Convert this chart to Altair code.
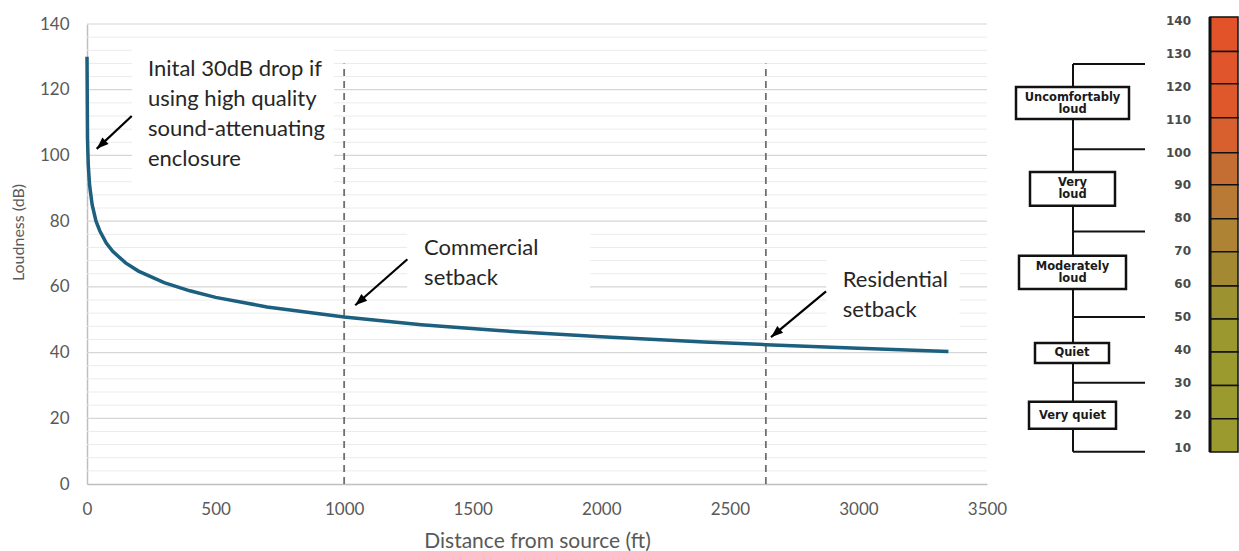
import altair as alt
import pandas as pd

# ---------------- main chart data ----------------
distance_ft = [0, 2, 5, 10, 20, 35, 50, 75, 100, 150, 200, 300, 400, 500, 700,
               1000, 1300, 1600, 2000, 2400, 2640, 3000, 3350]
loudness_db = [130, 105, 97, 91, 85, 80, 77, 73.3, 70.8, 67.3, 64.8, 61.3, 58.8,
               56.8, 53.9, 50.8, 48.5, 46.7, 44.8, 43.2, 42.4, 41.3, 40.3]

x_ticks = [0, 500, 1000, 1500, 2000, 2500, 3000, 3500]
y_ticks = [0, 20, 40, 60, 80, 100, 120, 140]
y_major_grid = [20, 40, 60, 80, 100, 120, 140]
y_minor_grid = [4, 8, 12, 16, 24, 28, 32, 36, 44, 48, 52, 56, 64, 68, 72, 76,
                84, 88, 92, 96, 104, 108, 112, 116, 124, 128, 132, 136]

setback_ft = [1000, 2640]
setback_bottom_db = [0, 0]
setback_top_db = [128, 128]

note_text = ["Inital 30dB drop if\nusing high quality\nsound-attenuating\nenclosure",
             "Commercial\nsetback",
             "Residential\nsetback"]
note_x_ft = [237, 1311, 2939]
note_y_db = [124.2, 69.6, 60.0]
note_box_x1 = [175, 1245, 2875]
note_box_x2 = [961, 1957, 3393]
note_box_y1 = [90, 58, 47]
note_box_y2 = [134, 78, 70]

arrow_tail_x = [174, 1246, 2874]
arrow_tail_y = [112, 68.4, 58.6]
arrow_head_x = [37.7, 1043, 2660]
arrow_head_y = [102, 54.4, 44.7]
arrow_angle = [227, 229, 230]

# ---------------- loudness diagram data ----------------
scale_levels = [140, 130, 120, 110, 100, 90, 80, 70, 60, 50, 40, 30, 20, 10]
bar_top = [141.3, 130.8, 121.0, 110.6, 100.0, 90.2, 79.9, 69.8, 59.4, 49.4, 39.3, 29.1, 19.0]
bar_bottom = [130.8, 121.0, 110.6, 100.0, 90.2, 79.9, 69.8, 59.4, 49.4, 39.3, 29.1, 19.0, 8.9]
bar_colors = ["#e2532a", "#e0552b", "#de582c", "#d8602e", "#c46e33", "#b87a35",
              "#ae8334", "#a38a32", "#9c9330", "#9b982f", "#9b9a2f", "#9b9a2f", "#9b9a2f"]

bracket_levels = [127, 101, 76, 50, 30, 9]
category_names = ["Uncomfortably\nloud", "Very\nloud", "Moderately\nloud", "Quiet", "Very quiet"]
category_top = [120.0, 94.1, 68.6, 42.1, 24.2]
category_bottom = [110.2, 83.8, 58.5, 36.0, 16.0]
category_left = [17, 31, 20, 36, 30]
category_right = [130, 116, 127, 110, 117]
category_text_level = [116.7, 90.8, 65.2, 39.1, 19.8]

# diagram layout units
stem_x = 74
tick_end_x = 146
label_x = 192
bar_x1 = 211
bar_x2 = 239

# ---------------- build data frames ----------------
curve = pd.DataFrame({"d": distance_ft, "L": loudness_db})
major = pd.DataFrame({"L": y_major_grid})
minor = pd.DataFrame({"L": y_minor_grid})
setbacks = pd.DataFrame({"d": setback_ft, "L": setback_bottom_db, "L2": setback_top_db})
notes = pd.DataFrame({"d": note_x_ft, "L": note_y_db, "t": note_text})
boxes = pd.DataFrame({"d": note_box_x1, "d2": note_box_x2, "L": note_box_y1, "L2": note_box_y2})
arrows = pd.DataFrame({"d": arrow_tail_x, "L": arrow_tail_y, "d2": arrow_head_x,
                       "L2": arrow_head_y, "a": arrow_angle})

XS = alt.Scale(domain=[0, 3500], nice=False, zero=False)
YS = alt.Scale(domain=[0, 140], nice=False, zero=False)
GRAY = "#595959"

x_axis = alt.Axis(values=x_ticks, format="d", grid=False, ticks=False, domainColor="#bfbfbf",
                  domainWidth=1.5, labelColor=GRAY, labelFont="Lato", labelFontSize=17,
                  labelPadding=17, title="Distance from source (ft)", titleFont="Lato",
                  titleFontSize=21, titleFontWeight="normal", titleColor=GRAY, titlePadding=13,
                  labelFlush=False)
y_axis = alt.Axis(values=y_ticks, grid=False, ticks=False, domainColor="#bfbfbf", domainWidth=1.5,
                  labelColor=GRAY, labelFont="Lato", labelFontSize=17, labelPadding=18,
                  title="Loudness (dB)", titleFont="Lato", titleFontSize=16,
                  titleFontWeight="normal", titleColor=GRAY, titlePadding=13, titleY=208)


def X(field):
    return alt.X(field, scale=XS, axis=x_axis)


def Y(field):
    return alt.Y(field, scale=YS, axis=y_axis)


curve_layer = alt.Chart(curve).mark_line(color="#1d5f7f", strokeWidth=3.5).encode(
    x=X("d:Q"), y=Y("L:Q"))
minor_layer = alt.Chart(minor).mark_rule(color="#ebebeb", strokeWidth=1).encode(y=Y("L:Q"))
major_layer = alt.Chart(major).mark_rule(color="#d6d6d6", strokeWidth=1.2).encode(y=Y("L:Q"))
box_layer = alt.Chart(boxes).mark_rect(color="white").encode(
    x=X("d:Q"), x2="d2:Q", y=Y("L:Q"), y2="L2:Q")
setback_layer = alt.Chart(setbacks).mark_rule(color="#6f6f6f", strokeWidth=1.8, strokeDash=[7, 5]).encode(
    x=X("d:Q"), y=Y("L:Q"), y2="L2:Q")
arrow_line = alt.Chart(arrows).mark_rule(color="black", strokeWidth=2.2).encode(
    x=X("d:Q"), x2="d2:Q", y=Y("L:Q"), y2="L2:Q")
arrow_head = alt.Chart(arrows).mark_point(
    shape="M0,0L0.75,2L-0.75,2Z", filled=True, color="black", opacity=1, size=144).encode(
    x=X("d2:Q"), y=Y("L2:Q"), angle=alt.Angle("a:Q", scale=None))
note_layer = alt.Chart(notes).mark_text(
    align="left", baseline="alphabetic", font="Lato", fontSize=22, lineHeight=30,
    color="#262626", lineBreak="\n").encode(x=X("d:Q"), y=Y("L:Q"), text="t:N")

main = alt.layer(minor_layer, major_layer, box_layer, setback_layer, curve_layer,
                 arrow_line, arrow_head, note_layer).properties(width=900, height=460)

# ---------------- diagram ----------------
DX = alt.Scale(domain=[0, 239], nice=False, zero=False)
DY = alt.Scale(domain=[-0.85, 139.15], nice=False, zero=False)

stem = pd.DataFrame({"x": [stem_x], "y": [bracket_levels[0]], "y2": [bracket_levels[-1]]})
ticks = pd.DataFrame({"x": [stem_x] * len(bracket_levels), "x2": [tick_end_x] * len(bracket_levels),
                      "y": bracket_levels})
cats = pd.DataFrame({"x": category_left, "x2": category_right, "y": category_top,
                     "y2": category_bottom, "name": category_names,
                     "cx": [(a + b) / 2 for a, b in zip(category_left, category_right)],
                     "ty": category_text_level})
scale_df = pd.DataFrame({"x": [label_x] * len(scale_levels), "y": scale_levels,
                         "t": [str(v) for v in scale_levels]})
bar_df = pd.DataFrame({"x": [bar_x1] * len(bar_top), "x2": [bar_x2] * len(bar_top),
                       "y": bar_top, "y2": bar_bottom, "c": bar_colors})
bar_edge = pd.DataFrame({"x": [bar_x1], "y": [bar_top[0]], "y2": [bar_bottom[-1]]})

d_stem = alt.Chart(stem).mark_rule(color="#111111", strokeWidth=2).encode(
    x=alt.X("x:Q", scale=DX, axis=None), y=alt.Y("y:Q", scale=DY, axis=None), y2="y2:Q")
d_ticks = alt.Chart(ticks).mark_rule(color="#111111", strokeWidth=2).encode(
    x=alt.X("x:Q", scale=DX, axis=None), x2="x2:Q", y=alt.Y("y:Q", scale=DY, axis=None))
d_boxes = alt.Chart(cats).mark_rect(fill="white", stroke="#111111", strokeWidth=2.5).encode(
    x=alt.X("x:Q", scale=DX, axis=None), x2="x2:Q", y=alt.Y("y:Q", scale=DY, axis=None), y2="y2:Q")
d_names = alt.Chart(cats).mark_text(
    font="DejaVu Sans", fontWeight="bold", fontSize=11.5, lineHeight=12.5, color="#1a1a1a",
    align="center", baseline="middle", lineBreak="\n").encode(
    x=alt.X("cx:Q", scale=DX, axis=None), y=alt.Y("ty:Q", scale=DY, axis=None), text="name:N")
d_scale = alt.Chart(scale_df).mark_text(
    font="DejaVu Sans", fontWeight="bold", fontSize=12, color="#4a4a4a",
    align="right", baseline="middle").encode(
    x=alt.X("x:Q", scale=DX, axis=None), y=alt.Y("y:Q", scale=DY, axis=None), text="t:N")
d_bar = alt.Chart(bar_df).mark_rect(stroke="#111111", strokeWidth=1.5).encode(
    x=alt.X("x:Q", scale=DX, axis=None), x2="x2:Q", y=alt.Y("y:Q", scale=DY, axis=None), y2="y2:Q",
    fill=alt.Fill("c:N", scale=None))
d_edge = alt.Chart(bar_edge).mark_rule(color="#111111", strokeWidth=3).encode(
    x=alt.X("x:Q", scale=DX, axis=None), y=alt.Y("y:Q", scale=DY, axis=None), y2="y2:Q")

diagram = alt.layer(d_stem, d_ticks, d_boxes, d_names, d_scale, d_bar, d_edge).properties(
    width=239, height=460)

chart = alt.hconcat(main, diagram, spacing=12, bounds="flush").configure_view(
    stroke=None).properties(padding={"left": 10, "top": 15, "right": 0, "bottom": 0},
                            background="white")

chart.save("out.html", embed_options={"renderer": "svg", "actions": False})
